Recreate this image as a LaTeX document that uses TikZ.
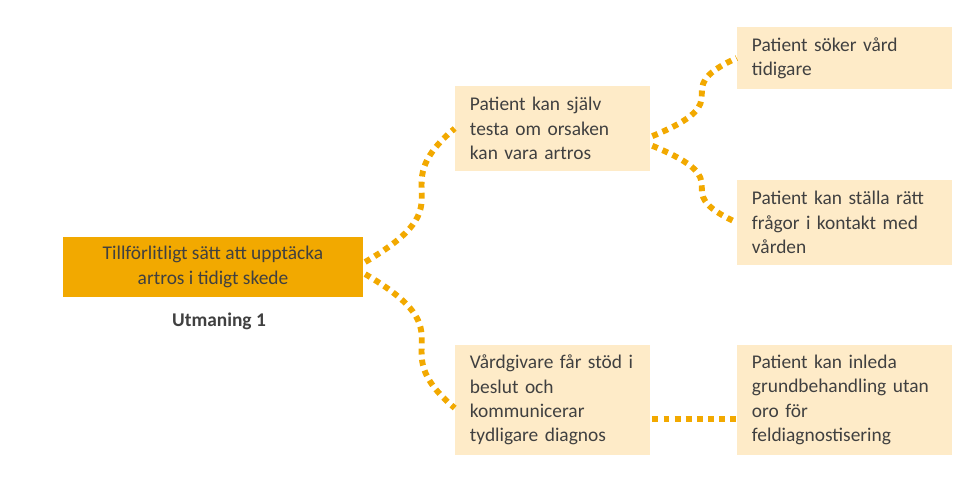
\documentclass[tikz,border=0pt]{standalone}
\usepackage{fontspec}
\setmainfont{Carlito}
\definecolor{amber}{RGB}{242,169,0}
\definecolor{cream}{RGB}{254,235,200}
\definecolor{ink}{RGB}{64,64,64}
\begin{document}
\begin{tikzpicture}[x=0.025cm,y=-0.025cm,
  font=\fontsize{13.8pt}{17.3pt}\selectfont,
  goal/.style={fill=amber,text=ink,align=center,minimum width=7.5cm,minimum height=1.5cm,inner sep=0pt},
  effect/.style={fill=cream,text=ink,align=left,inner xsep=0.375cm,inner ysep=0pt},
  link/.style={draw=amber,line width=4.2pt,dash pattern=on 4.2pt off 3.7pt,dash phase=-1.5pt}]
\useasboundingbox (0,0) rectangle (975,488);

\node[goal] (goal) at (213,267) {Tillförlitligt sätt att upptäcka\\artros i tidigt skede};
\node[text=ink,font=\fontsize{13.8pt}{17.3pt}\selectfont\bfseries] (utm) at (219,321) {Utmaning 1};

\node[effect,text width=4.125cm,minimum height=2.125cm] (testa) at (552.5,128.5) {Patient kan själv\\testa om orsaken\\kan vara artros};
\node[effect,text width=4.125cm,minimum height=2.75cm] (vard) at (552.5,400) {Vårdgivare får stöd i\\beslut och\\kommunicerar\\tydligare diagnos};
\node[effect,text width=4.625cm,minimum height=1.55cm] (soker) at (844.5,58) {Patient söker vård\\tidigare};
\node[effect,text width=4.625cm,minimum height=2.125cm] (stalla) at (844.5,222.5) {Patient kan ställa rätt\\frågor i kontakt med\\vården};
\node[effect,text width=4.625cm,minimum height=2.75cm] (inleda) at (844.5,400) {Patient kan inleda\\grundbehandling utan\\oro för\\feldiagnostisering};

\draw[link] ([yshift=2.8pt]goal.east) .. controls +(109,-63) and +(-75,63) .. (testa.west);
\draw[link] ([yshift=-4.3pt]goal.east) .. controls +(109,63) and +(-75,-63) .. ([yshift=-5.7pt]vard.west);
\draw[link] ([yshift=-6pt]testa.east) .. controls +(96,-39) and +(-74,34) .. (soker.west);
\draw[link] ([yshift=-11.7pt]testa.east) .. controls +(96,39) and +(-74,-34) .. (stalla.west);
\draw[link] ([yshift=-13.5pt]vard.east) -- ([yshift=-13.5pt]inleda.west);
\end{tikzpicture}
\end{document}
